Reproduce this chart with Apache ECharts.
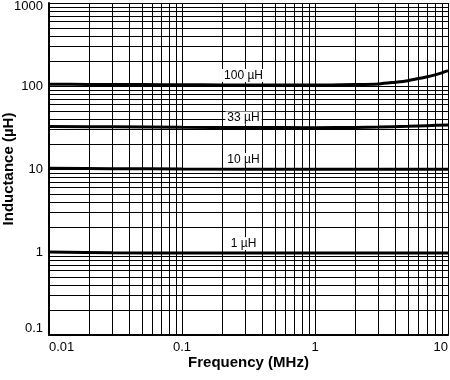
<!DOCTYPE html>
<html>
<head>
<meta charset="utf-8">
<script src="https://cdn.jsdelivr.net/npm/echarts@6/dist/echarts.min.js"></script>
<style>html,body{margin:0;padding:0;background:#fff;}#c{width:450px;height:380px;}</style>
</head>
<body>
<div id="c"></div>
<script>
// Frequency (MHz) sample points for each curve
const freq100 = [0.01, 0.02, 0.05, 0.1, 0.2, 0.5, 1, 2, 3, 4, 5, 6, 7, 8, 9, 10];
const val100  = [105, 104.5, 104, 103.5, 103, 102.5, 102.5, 104, 106, 111, 116, 123, 129, 136, 144, 153];
const freq33  = [0.01, 0.03, 0.1, 0.3, 1, 2, 3, 5, 7, 10];
const val33   = [32.5, 32.2, 31.8, 31.6, 31.5, 31.7, 32, 32.7, 33.3, 34];
const freq10  = [0.01, 0.03, 0.1, 1, 3, 10];
const val10   = [10.2, 10.1, 10, 9.95, 9.95, 9.9];
const freq1   = [0.01, 0.03, 0.1, 1, 3, 10];
const val1    = [1.0, 0.98, 0.97, 0.97, 0.97, 0.97];
const curveNames = ['100 µH', '33 µH', '10 µH', '1 µH'];
const labelFreq = 0.29;
const labelVals = [103, 31.7, 10, 0.97];
const xTicks = [0.01, 0.1, 1, 10];
const yTicks = [0.1, 1, 10, 100, 1000];

const xGrid = [], yGrid = [];
for (let e = -2; e <= 0; e++) for (let k = 2; k <= 10; k++) xGrid.push(+(k * Math.pow(10, e)).toPrecision(3));
for (let e = -1; e <= 2; e++) for (let k = 1; k <= 10; k++) yGrid.push(+(k * Math.pow(10, e)).toPrecision(3));

const chart = echarts.init(document.getElementById('c'));
const font = 'Liberation Sans, Arial, Helvetica, sans-serif';
const pairs = (xs, ys) => xs.map((x, i) => [x, ys[i]]);
const curves = [pairs(freq100, val100), pairs(freq33, val33), pairs(freq10, val10), pairs(freq1, val1)];

const series = [{
  type: 'line', data: [], z: 1, silent: true,
  markLine: {
    silent: true, symbol: 'none', animation: false,
    label: {show: false},
    lineStyle: {color: '#000', width: 1, type: 'solid'},
    data: xGrid.map(v => ({xAxis: v})).concat(yGrid.filter(v => v > 0.1).map(v => ({yAxis: v})))
  }
}];
curves.forEach((d, i) => {
  series.push({
    type: 'line', data: d, smooth: 0.3, showSymbol: false, z: 3,
    lineStyle: {color: '#000', width: 3},
    markPoint: {
      symbol: 'rect', symbolSize: 0, z: 5, animation: false,
      data: [{coord: [labelFreq, labelVals[i]], value: curveNames[i]}],
      label: {
        show: true, position: 'inside', offset: [0, -9.5], formatter: curveNames[i],
        color: '#000', fontSize: 12, fontFamily: font,
        backgroundColor: '#fff', padding: [1, 2, 0, 2]
      }
    }
  });
});

const fmtTick = (ticks, v) => { const r = ticks.find(t => Math.abs(t - v) / t < 1e-6); return r === undefined ? '' : String(r); };

chart.setOption({
  animation: false,
  backgroundColor: '#fff',
  grid: {left: 49, right: 2, top: 3, bottom: 45, containLabel: false, outerBoundsMode: 'none'},
  xAxis: {
    type: 'log', logBase: 10, min: 0.01, max: 10,
    name: 'Frequency (MHz)', nameLocation: 'middle', nameGap: 20, nameMoveOverlap: false,
    nameTextStyle: {fontSize: 15, fontWeight: 'bold', fontFamily: font, color: '#000'},
    axisLine: {show: true, lineStyle: {color: '#000', width: 2}},
    axisTick: {show: false},
    splitLine: {show: false},
    axisLabel: {
      fontSize: 13, fontFamily: font, color: '#000', margin: 6,
      alignMinLabel: 'left', alignMaxLabel: 'right',
      formatter: v => fmtTick(xTicks, v)
    }
  },
  yAxis: {
    type: 'log', logBase: 10, min: 0.1, max: 1000,
    name: 'Inductance (µH)', nameLocation: 'middle', nameGap: 33, nameRotate: 90, nameMoveOverlap: false,
    nameTextStyle: {fontSize: 15, fontWeight: 'bold', fontFamily: font, color: '#000'},
    axisLine: {show: true, lineStyle: {color: '#000', width: 2}},
    axisTick: {show: false},
    splitLine: {show: false},
    axisLabel: {
      fontSize: 13, fontFamily: font, color: '#000', margin: 6,
      verticalAlignMinLabel: 'bottom',
      formatter: v => { const s = fmtTick(yTicks, v); return s === '1000' ? '{t|' + s + '}' : s; },
      rich: {t: {fontSize: 13, fontFamily: font, color: '#000', padding: [6, 0, 0, 0]}}
    }
  },
  series: series
});
</script>
</body>
</html>
